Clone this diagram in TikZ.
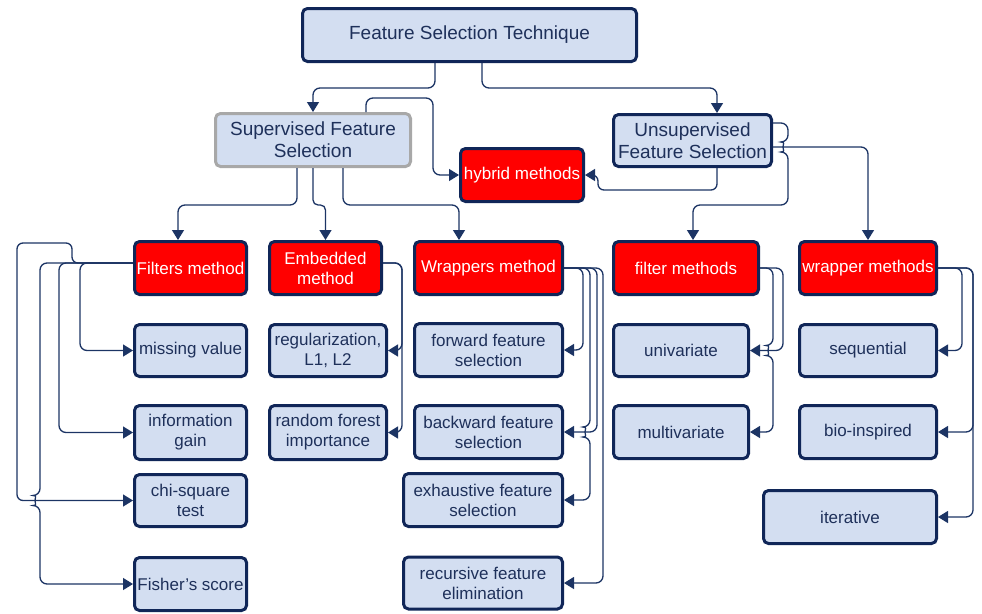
\documentclass[tikz,border=0pt]{standalone}
\usepackage{fontspec}
\setmainfont{Liberation Sans}
\usetikzlibrary{arrows.meta}
\definecolor{boxfill}{RGB}{211,222,241}
\definecolor{navy}{RGB}{16,38,88}
\definecolor{linecol}{RGB}{28,52,100}
\definecolor{txt}{RGB}{30,48,90}
\definecolor{grayb}{RGB}{168,168,168}
\begin{document}
\begin{tikzpicture}[x=1pt,y=-1pt,
  box/.style={draw=navy, line width=3pt, fill=boxfill, rounded corners=5pt, text=txt,
    align=center, inner sep=0pt, font=\fontsize{17}{20}\selectfont},
  redbox/.style={box, fill=red, text=white},
  bigbox/.style={box, font=\fontsize{19}{22}\selectfont},
  conn/.style={draw=linecol, line width=1.3pt, rounded corners=7pt,
    -{Triangle[length=10pt,width=12pt]}},
  sz/.style 2 args={minimum width=#1pt-3pt, minimum height=#2pt-3pt}]
\useasboundingbox (0,0) rectangle (982,613);

% level 0/1
\node[bigbox, sz={337}{56}] (top) at (469.5,35) {Feature Selection Technique};
\node[bigbox, draw=grayb, sz={198}{56}] (sup) at (313,140) {Supervised Feature\\Selection};
\node[bigbox, sz={161}{55}] (uns) at (692.5,140.5) {Unsupervised\\Feature Selection};
\node[redbox, sz={126}{56}] (hyb) at (522,175) {hybrid methods};

% level 2
\node[redbox, sz={115}{56}] (fm) at (190.5,268) {Filters method};
\node[redbox, sz={115}{56}] (em) at (325.5,268) {Embedded\\method};
\node[redbox, sz={151}{56}] (wm) at (488.5,268) {Wrappers method};
\node[redbox, sz={148}{56}] (flm) at (686,268) {filter methods};
\node[redbox, sz={140}{56}] (wpm) at (868,268) {wrapper methods};

% leaves
\node[box, sz={115}{55}] (mv) at (190.5,350.5) {missing value};
\node[box, sz={120}{55}] (reg) at (328,350.5) {regularization,\\L1, L2};
\node[box, sz={151}{56}] (fwd) at (488.5,350) {forward feature\\selection};
\node[box, sz={138}{55}] (uni) at (681,350.5) {univariate};
\node[box, sz={140}{55}] (seq) at (868,350.5) {sequential};

\node[box, sz={115}{57}] (ig) at (190.5,432.5) {information\\gain};
\node[box, sz={120}{57}] (rf) at (328,432.5) {random forest\\importance};
\node[box, sz={151}{56}] (bwd) at (488.5,432) {backward feature\\selection};
\node[box, sz={138}{56}] (mul) at (681,432) {multivariate};
\node[box, sz={140}{56}] (bio) at (868,432) {bio-inspired};

\node[box, sz={115}{55}] (chi) at (190.5,500.5) {chi-square\\test};
\node[box, sz={162}{56}] (exh) at (483,500) {exhaustive feature\\selection};
\node[box, sz={176}{56}] (itr) at (850,517) {iterative};

\node[box, sz={115}{56}] (fis) at (190.5,584) {Fisher's score};
\node[box, sz={162}{55}] (rec) at (483,583) {recursive feature\\elimination};

% connectors from the root
\draw[conn] ([xshift=-34.5pt]top.south) -- (435,88) -- (313,88) -- (sup.north);
\draw[conn] ([xshift=12.5pt]top.south) -- (482,88) -- (717,88) -- ([xshift=24.5pt]uns.north);

% hybrid
\draw[conn] ([xshift=53pt]sup.north) -- (366,98) -- (433,98) -- (433,175) -- (hyb.west);
\draw[conn, rounded corners=6pt] ([xshift=24.5pt]uns.south) -- (717,190) -- (598,190) -- (598,175) -- (hyb.east);

% supervised children
\draw[conn] ([xshift=-16pt]sup.south) -- (297,205) -- (178,205) -- ([xshift=-12.5pt]fm.north);
\draw[conn, rounded corners=5pt] (sup.south) -- (313,205) -- (325.5,205) -- (em.north);
\draw[conn] ([xshift=30pt]sup.south) -- (343,205) -- (459,205) -- ([xshift=-29.5pt]wm.north);

% unsupervised children
\draw[conn] ([yshift=17.5pt]uns.east) -- (788,123) -- (788,142)
  arc[start angle=90, end angle=270, radius=5pt] -- (788,205) -- (693,205) -- ([xshift=7pt]flm.north);
\draw[conn] ([yshift=-6.5pt]uns.east) -- (868,147) -- (wpm.north);

% Filters method children
\draw[conn] ([yshift=5pt]fm.west) -- (80,263) -- (80,350.5) -- (mv.west);
\draw[conn] ([yshift=5pt]fm.west) -- (59,263) -- (59,432.5) -- (ig.west);
\draw[conn] ([yshift=5pt]fm.west) -- (40,263) -- (40,495.5)
  arc[start angle=90, end angle=270, radius=5pt] -- (40,584) -- (fis.west);
\draw[conn, rounded corners=6pt] ([yshift=5pt]fm.west) -- (72,263) -- (72,243) -- (17,243) -- (17,500.5) -- (chi.west);

% Embedded method children
\draw[conn] ([yshift=5pt]em.east) -- (402,263) -- (402,350.5) -- (reg.east);
\draw[conn] ([yshift=5pt]em.east) -- (402,263) -- (402,432.5) -- (rf.east);

% Wrappers method children
\draw[conn] (wm.east) -- (583,268) -- (583,350) -- (fwd.east);
\draw[conn] (wm.east) -- (597,268) -- (597,432) -- (bwd.east);
\draw[conn] (wm.east) -- (590,268) -- (590,427)
  arc[start angle=90, end angle=270, radius=5pt] -- (590,500) -- (exh.east);
\draw[conn] (wm.east) -- (603,268) -- (603,583) -- (rec.east);

% filter methods children
\draw[conn] (flm.east) -- (783,268) -- (783,350.5) -- (uni.east);
\draw[conn] (flm.east) -- (773,268) -- (773,345.5)
  arc[start angle=90, end angle=270, radius=5pt] -- (773,432) -- (mul.east);

% wrapper methods children
\draw[conn] (wpm.east) -- (962,268) -- (962,350.5) -- (seq.east);
\draw[conn] (wpm.east) -- (973,268) -- (973,432) -- (bio.east);
\draw[conn] (wpm.east) -- (973,268) -- (973,517) -- (itr.east);
\end{tikzpicture}
\end{document}
